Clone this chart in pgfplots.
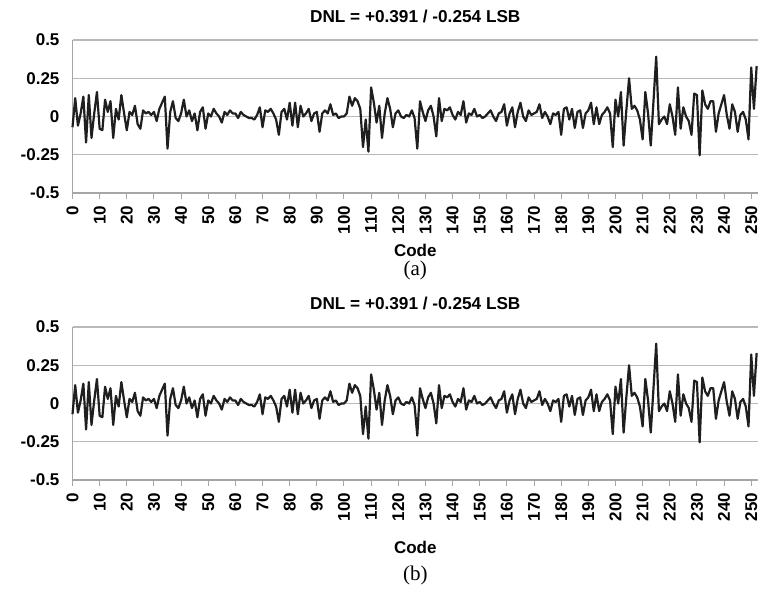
\documentclass[border=0pt]{standalone}
\usepackage{fontspec}
\setmainfont{Liberation Sans}
\newfontfamily\capfont{Liberation Serif}
\usepackage{pgfplots}
\usepackage{pgfplotstable}
\pgfplotsset{compat=1.18}

% DNL per code (both panels show the same curve)
\pgfplotstableread{
code dnl
0 -0.07
1 0.12
2 -0.06
3 0.02
4 0.13
5 -0.17
6 0.14
7 -0.14
8 0.02
9 0.16
10 -0.08
11 -0.09
12 0.11
13 0.03
14 0.10
15 -0.14
16 0.05
17 -0.02
18 0.14
19 0.02
20 -0.09
21 0.03
22 0.01
23 0.07
24 -0.05
25 -0.08
26 0.04
27 0.02
28 0.03
29 0.01
30 0.03
31 -0.03
32 0.05
33 0.09
34 0.13
35 -0.21
36 0.03
37 0.10
38 -0.01
39 -0.03
40 0.02
41 0.11
42 0.00
43 0.04
44 -0.03
45 0.02
46 -0.09
47 0.03
48 0.06
49 -0.08
50 0.02
51 0.00
52 0.05
53 0.02
54 0.00
55 -0.04
56 0.03
57 0.01
58 0.04
59 0.02
60 0.02
61 -0.01
62 0.03
63 0.01
64 0.00
65 -0.01
66 -0.01
67 -0.02
68 0.01
69 0.06
70 -0.07
71 0.04
72 0.03
73 0.05
74 0.02
75 -0.02
76 -0.12
77 0.03
78 0.05
79 -0.02
80 0.09
81 -0.06
82 0.09
83 -0.07
84 0.07
85 0.00
86 0.02
87 0.05
88 -0.03
89 0.02
90 0.03
91 -0.10
92 0.02
93 0.04
94 0.02
95 0.08
96 0.01
97 0.02
98 -0.01
99 0.00
100 0.00
101 0.02
102 0.13
103 0.07
104 0.12
105 0.10
106 0.05
107 -0.20
108 -0.02
109 -0.23
110 0.19
111 0.09
112 -0.04
113 0.07
114 -0.14
115 0.02
116 0.12
117 0.05
118 -0.07
119 0.02
120 0.04
121 0.00
122 -0.01
123 0.01
124 0.00
125 0.04
126 -0.01
127 -0.21
128 0.10
129 0.03
130 -0.03
131 0.04
132 0.07
133 0.00
134 -0.13
135 0.12
136 -0.03
137 0.05
138 0.04
139 0.06
140 0.01
141 -0.02
142 0.03
143 0.01
144 0.10
145 -0.04
146 0.02
147 0.01
148 0.05
149 0.00
150 0.01
151 -0.01
152 0.00
153 0.02
154 0.04
155 0.00
156 -0.03
157 0.02
158 0.03
159 0.08
160 -0.06
161 0.02
162 0.06
163 -0.07
164 0.03
165 0.09
166 0.00
167 -0.03
168 0.04
169 0.01
170 0.02
171 0.03
172 0.08
173 -0.01
174 0.03
175 0.00
176 -0.05
177 0.02
178 0.01
179 0.03
180 -0.12
181 0.05
182 0.06
183 -0.02
184 0.05
185 -0.075
186 0.03
187 0.04
188 -0.075
189 0.02
190 0.04
191 0.09
192 -0.05
193 0.06
194 -0.05
195 0.01
196 0.03
197 0.06
198 0.02
199 -0.20
200 0.11
201 0.00
202 0.16
203 -0.19
204 0.04
205 0.25
206 0.05
207 0.07
208 0.04
209 -0.02
210 -0.15
211 0.16
212 0.02
213 -0.19
214 0.10
215 0.391
216 -0.05
217 -0.02
218 0.00
219 -0.05
220 0.08
221 0.00
222 -0.12
223 0.19
224 -0.08
225 0.06
226 0.00
227 -0.03
228 -0.12
229 0.15
230 0.14
231 -0.254
232 0.17
233 0.08
234 0.05
235 0.10
236 0.10
237 -0.10
238 0.02
239 0.08
240 0.14
241 0.01
242 -0.08
243 0.08
244 0.03
245 -0.10
246 0.01
247 0.03
248 -0.02
249 -0.15
250 0.32
251 0.05
252 0.33
}\dnltable

\pgfplotsset{
  dnlpanel/.style={
    scale only axis, width=342.75pt, height=76.5pt,
    anchor=south west,
    xmin=0, xmax=252.5, ymin=-0.5, ymax=0.5,
    axis x line*=bottom, axis y line*=left,
    axis line style={gray!70, line width=0.7pt},
    xtick={0,10,...,250},
    ytick={-0.5,-0.25,0,0.25,0.5},
    yticklabels={-0.5,-0.25,0,0.25,0.5},
    ymajorgrids, grid style={gray!55, line width=0.7pt},
    tick align=outside, major tick length=3pt,
    xtick style={gray!70, line width=0.5pt},
    ytick style={draw=none},
    /pgf/number format/assume math mode=true,
    tick label style={font=\fontsize{8.5}{10}\selectfont\bfseries},
    xticklabel style={rotate=90, anchor=east},
    title style={font=\fontsize{8.6}{10}\selectfont\bfseries, yshift=-1pt},
    clip=false,
  },
  dnlline/.style={draw=black!88, line width=1.1pt, line join=round, no marks},
}

\begin{document}
\begin{tikzpicture}
\useasboundingbox (0,0) rectangle (379pt,296.5pt);

\begin{axis}[dnlpanel, at={(36.25pt,200pt)}, title={DNL = +0.391 / -0.254 LSB}]
\addplot[dnlline] table[x=code, y=dnl] {\dnltable};
\node[font=\fontsize{8.5}{10}\selectfont\bfseries, inner sep=0pt] at (rel axis cs:0.5,0) [yshift=-28.5pt] {Code};
\node[font=\capfont\fontsize{10.5}{12}\selectfont, inner sep=0pt] at (rel axis cs:0.5,0) [yshift=-38.5pt] {(a)};
\end{axis}

\begin{axis}[dnlpanel, at={(36.25pt,56.5pt)}, title={DNL = +0.391 / -0.254 LSB}]
\addplot[dnlline] table[x=code, y=dnl] {\dnltable};
\node[font=\fontsize{8.5}{10}\selectfont\bfseries, inner sep=0pt] at (rel axis cs:0.5,0) [yshift=-33.5pt] {Code};
\node[font=\capfont\fontsize{10.5}{12}\selectfont, inner sep=0pt] at (rel axis cs:0.5,0) [yshift=-47.5pt] {(b)};
\end{axis}
\end{tikzpicture}
\end{document}
